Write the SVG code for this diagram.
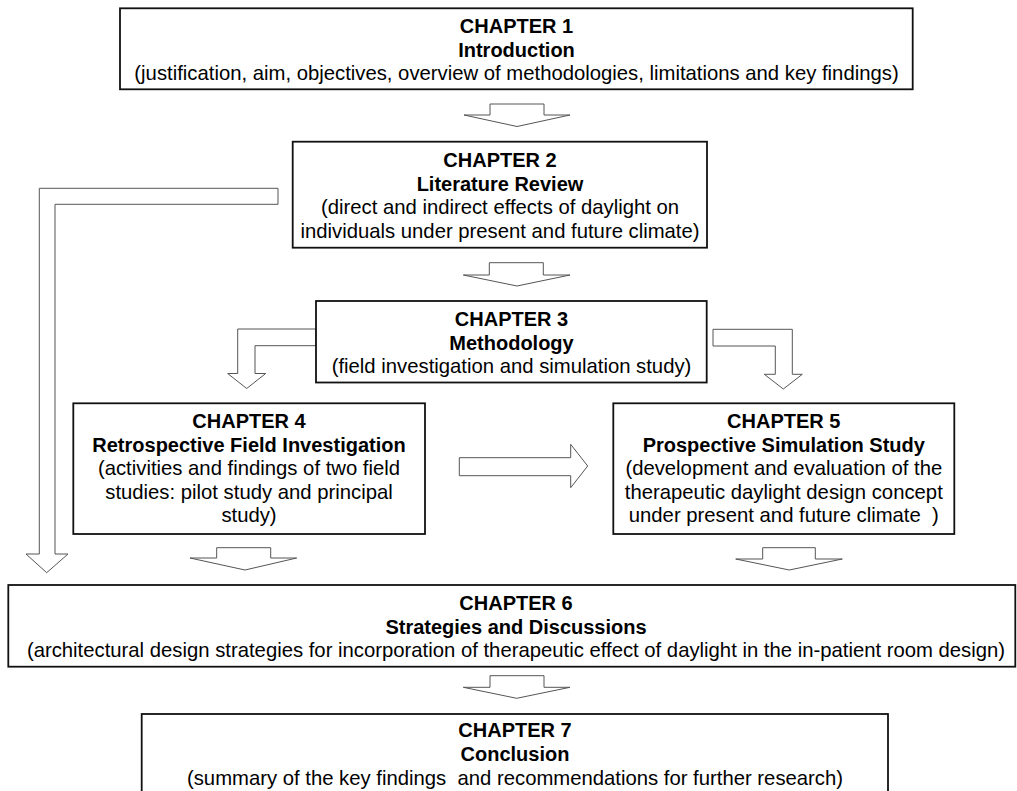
<svg xmlns="http://www.w3.org/2000/svg" width="1017" height="791" viewBox="0 0 1017 791">
<style>
.box{fill:#fff;stroke:#111;stroke-width:1.8}
.arr{fill:#fff;stroke:#555;stroke-width:1}
text{font-family:"Liberation Sans",Arial,sans-serif;font-size:20.3px;fill:#000;text-anchor:middle;white-space:pre}
.b{font-weight:bold;font-size:20px}
</style>
<rect width="1017" height="791" fill="#fff"/>
<g id="connectors">
<polygon class="arr" points="490,104 544,104 544,115 570,115 517,126.5 464,115 490,115"/>
<polygon class="arr" points="278,188.3 39.3,188.3 39.3,554 26,554 46.7,572.7 68,554 55,554 55,204.3 278,204.3"/>
<polygon class="arr" points="489.3,262.7 543.3,262.7 543.3,275 570,275 517,286 463.3,275 489.3,275"/>
<polygon class="arr" points="316,329 237.7,329 237.7,373.5 227.7,373.5 246.7,388.5 265.7,373.5 255,373.5 255,345.7 316,345.7"/>
<polygon class="arr" points="713,329.3 792.3,329.3 792.3,374.3 802.3,374.3 783.3,389 764.3,374.3 775.3,374.3 775.3,346 713,346"/>
<polygon class="arr" points="459.3,457.7 570.7,457.7 570.7,444.3 587.7,466 570.7,487.7 570.7,475.7 459.3,475.7"/>
<polygon class="arr" points="216.7,547.7 270.7,547.7 270.7,558 296.7,558 245,570 190,558 216.7,558"/>
<polygon class="arr" points="762.7,547.7 815.3,547.7 815.3,559 842.3,559 789.3,570 735.7,559 762.7,559"/>
<polygon class="arr" points="490,675.7 544,675.7 544,687.3 570,687.3 516.7,698.3 463.3,687.3 490,687.3"/>
</g>
<g id="ch1">
<rect class="box" x="120" y="8.3" width="792.7" height="81"/>
<text class="b" x="516.5" y="33">CHAPTER 1</text>
<text class="b" x="516.5" y="56.5">Introduction</text>
<text x="516.5" y="80">(justification, aim, objectives, overview of methodologies, limitations and key findings)</text>
</g>
<g id="ch2">
<rect class="box" x="292.7" y="141.7" width="414.3" height="106"/>
<text class="b" x="500" y="167">CHAPTER 2</text>
<text class="b" x="500" y="190.5">Literature Review</text>
<text x="500" y="214">(direct and indirect effects of daylight on</text>
<text x="500" y="237.5">individuals under present and future climate)</text>
</g>
<g id="ch3">
<rect class="box" x="316" y="301" width="390.7" height="81.5"/>
<text class="b" x="511.5" y="326">CHAPTER 3</text>
<text class="b" x="511.5" y="349.5">Methodology</text>
<text x="511.5" y="373">(field investigation and simulation study)</text>
</g>
<g id="ch4">
<rect class="box" x="73.3" y="403.3" width="351.7" height="130.7"/>
<text class="b" x="249" y="428">CHAPTER 4</text>
<text class="b" x="249" y="451.5">Retrospective Field Investigation</text>
<text x="249" y="475">(activities and findings of two field</text>
<text x="249" y="498.5">studies: pilot study and principal</text>
<text x="249" y="522">study)</text>
</g>
<g id="ch5">
<rect class="box" x="613.3" y="403.3" width="341" height="130.7"/>
<text class="b" x="783.8" y="428">CHAPTER 5</text>
<text class="b" x="783.8" y="451.5">Prospective Simulation Study</text>
<text x="783.8" y="475">(development and evaluation of the</text>
<text x="783.8" y="498.5">therapeutic daylight design concept</text>
<text x="783.8" y="522">under present and future climate  )</text>
</g>
<g id="ch6">
<rect class="box" x="8.3" y="585" width="1007" height="81.7"/>
<text class="b" x="516" y="610">CHAPTER 6</text>
<text class="b" x="516" y="633.5">Strategies and Discussions</text>
<text x="516" y="657">(architectural design strategies for incorporation of therapeutic effect of daylight in the in-patient room design)</text>
</g>
<g id="ch7">
<rect class="box" x="141.7" y="714" width="746.3" height="85"/>
<text class="b" x="515" y="737">CHAPTER 7</text>
<text class="b" x="515" y="760.5">Conclusion</text>
<text x="515" y="784.5">(summary of the key findings  and recommendations for further research)</text>
</g>
</svg>
